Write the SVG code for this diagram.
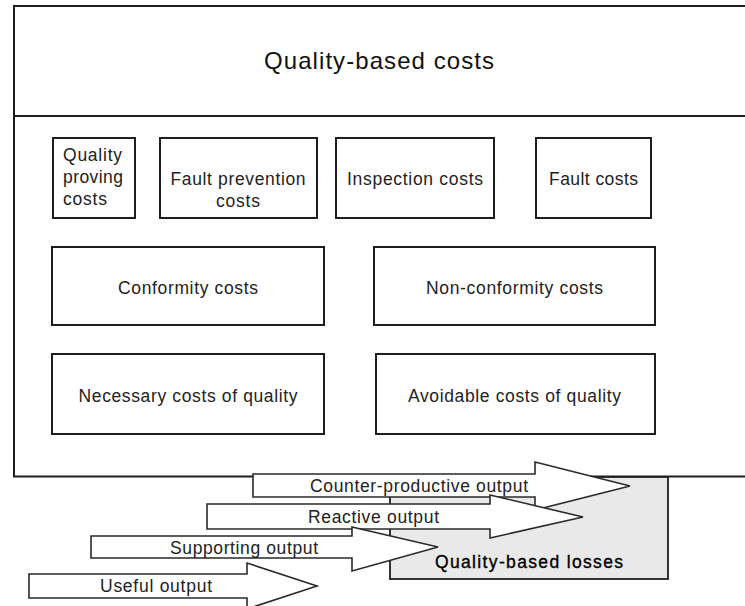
<svg xmlns="http://www.w3.org/2000/svg" width="745" height="606" viewBox="0 0 745 606">
  <style>
    .frame { fill: #ffffff; stroke: #1e1e1e; stroke-width: 2; }
    .box { fill: #ffffff; stroke: #1e1e1e; stroke-width: 2; }
    .loss { fill: #e9e9e9; stroke: #1e1e1e; stroke-width: 1.8; }
    .arrow { fill: #ffffff; stroke: #2a2a2a; stroke-width: 1.6; stroke-linejoin: miter; }
    .t { font-family: "Liberation Sans", Arial, sans-serif; font-size: 17.5px; fill: #222222; }
    .title { font-family: "Liberation Sans", Arial, sans-serif; font-size: 24px; fill: #111111; }
    .c { text-anchor: middle; }
  </style>

  <!-- outer frame with header band -->
  <g id="frame">
    <rect class="frame" x="14" y="6" width="760" height="470.5"/>
    <line x1="14" y1="116" x2="745" y2="116" stroke="#1e1e1e" stroke-width="2"/>
    <text class="title c" x="379" y="69" textLength="230">Quality-based costs</text>
  </g>

  <!-- first row -->
  <g id="quality-proving-costs">
    <rect class="box" x="53" y="138" width="82" height="80"/>
    <text class="t" x="63" y="161" textLength="59">Quality</text>
    <text class="t" x="63" y="183" textLength="60">proving</text>
    <text class="t" x="63" y="205" textLength="44">costs</text>
  </g>
  <g id="fault-prevention-costs">
    <rect class="box" x="160" y="138" width="157" height="80"/>
    <text class="t c" x="238" y="185" textLength="135">Fault prevention</text>
    <text class="t c" x="238" y="207" textLength="44">costs</text>
  </g>
  <g id="inspection-costs">
    <rect class="box" x="336" y="138" width="158" height="80"/>
    <text class="t c" x="415" y="185" textLength="136">Inspection costs</text>
  </g>
  <g id="fault-costs">
    <rect class="box" x="536" y="138" width="115" height="80"/>
    <text class="t c" x="593.5" y="185" textLength="89">Fault costs</text>
  </g>

  <!-- second row -->
  <g id="conformity-costs">
    <rect class="box" x="52" y="247" width="272" height="78"/>
    <text class="t c" x="188" y="294" textLength="140">Conformity costs</text>
  </g>
  <g id="non-conformity-costs">
    <rect class="box" x="374" y="247" width="281" height="78"/>
    <text class="t c" x="514.5" y="294" textLength="177">Non-conformity costs</text>
  </g>

  <!-- third row -->
  <g id="necessary-costs">
    <rect class="box" x="52" y="354" width="272" height="80"/>
    <text class="t c" x="188" y="402" textLength="219">Necessary costs of quality</text>
  </g>
  <g id="avoidable-costs">
    <rect class="box" x="376" y="354" width="279" height="80"/>
    <text class="t c" x="514.5" y="402" textLength="213">Avoidable costs of quality</text>
  </g>

  <!-- losses box -->
  <g id="quality-based-losses">
    <rect class="loss" x="390" y="477" width="278" height="102"/>
    <text class="t c" x="529" y="568" textLength="188" style="fill:#000000;stroke:#000000;stroke-width:0.35">Quality-based losses</text>
  </g>

  <!-- output block arrows -->
  <g id="outputs">
    <g id="counter-productive-output">
      <polygon class="arrow" points="253,474 535,474 535,462 630,486 535,510 535,497 253,497"/>
      <text class="t c" x="419" y="492" textLength="218">Counter-productive output</text>
    </g>
    <g id="reactive-output">
      <polygon class="arrow" points="207,504 490,504 490,495 583,517 490,538 490,529 207,529"/>
      <text class="t c" x="373.5" y="523" textLength="131">Reactive output</text>
    </g>
    <g id="supporting-output">
      <polygon class="arrow" points="91,536 352,536 352,527 438,547 352,571 352,558 91,558"/>
      <text class="t c" x="244" y="554" textLength="148">Supporting output</text>
    </g>
    <g id="useful-output">
      <polygon class="arrow" points="29,574 247,574 247,563 317,586 247,609 247,598 29,598"/>
      <text class="t c" x="156" y="592" textLength="112">Useful output</text>
    </g>
  </g>
</svg>
